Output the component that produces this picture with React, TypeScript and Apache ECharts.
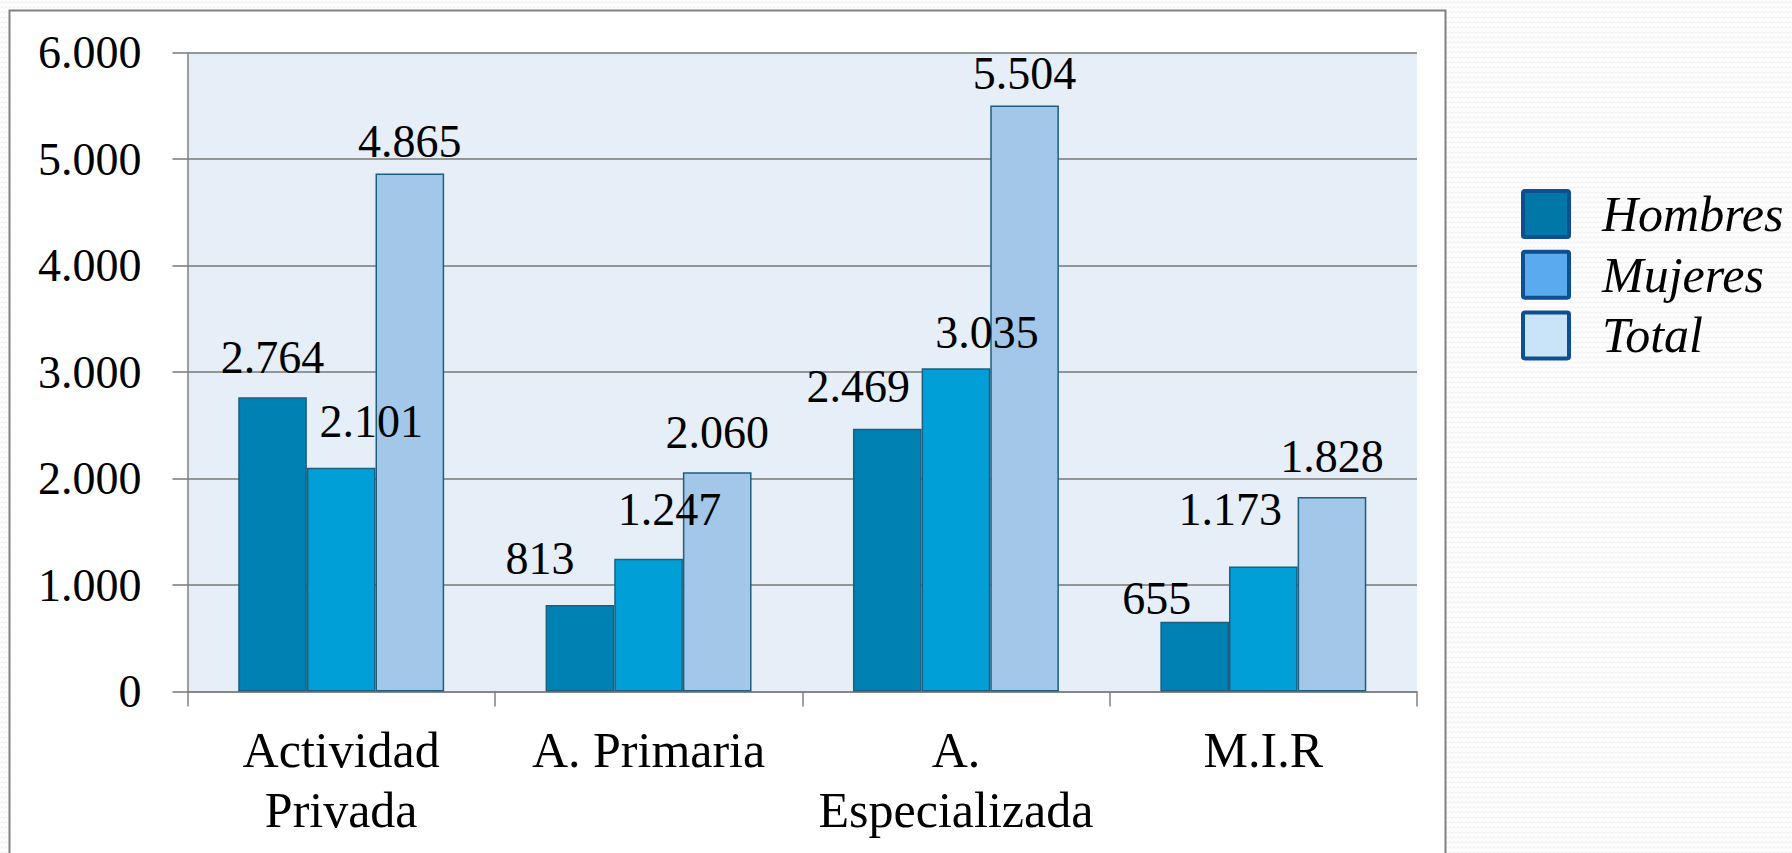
import React, { useEffect, useRef } from "react";
import * as echarts from "echarts";

const categories = ["Actividad\nPrivada", "A. Primaria", "A.\nEspecializada", "M.I.R"];
const seriesNames = ["Hombres", "Mujeres", "Total"];
const hombres = [2764, 813, 2469, 655];
const mujeres = [2101, 1247, 3035, 1173];
const total = [4865, 2060, 5504, 1828];
const yMin = 0;
const yMax = 6000;
const yStep = 1000;

// label nudges (style only), [dx, dy] per category
const hombresNudge = [[0, 0], [-40, -6], [-29, -2], [-38, 17]];
const mujeresNudge = [[30, -6], [21, -9], [31, 4], [-33, -17]];
const totalNudge = [[0, 8], [0, 0], [0, 8], [0, 0]];

const barColors = ["#0081B3", "#009FD8", "#A2C7E8"];
const legendColors = ["#0077A6", "#5AAAF0", "#C9E3F9"];

const fmt = (v: number) => String(v).replace(/\B(?=(\d{3})+(?!\d))/g, ".");

const SERIF = "'Liberation Serif', 'DejaVu Serif', serif";

const legendIcon =
  "path://M2,0H48A2,2 0 0 1 50,2V48A2,2 0 0 1 48,50H2A2,2 0 0 1 0,48V2A2,2 0 0 1 2,0Z";

const patternSvg =
  "data:image/svg+xml;utf8," +
  encodeURIComponent(
    "<svg xmlns='http://www.w3.org/2000/svg' width='8' height='5'><path d='M0 3.5 L2 1.5 L4 3.5 L6 1.5 L8 3.5' stroke='#e4e4e4' stroke-width='0.8' fill='none'/></svg>"
  );

export default function App() {
  const ref = useRef<HTMLDivElement>(null);
  useEffect(() => {
    if (!ref.current) return;
    const chart = echarts.init(ref.current, null, { renderer: "svg" });
    const values = [hombres, mujeres, total];
    const nudges = [hombresNudge, mujeresNudge, totalNudge];
    chart.setOption({
      animation: false,
      backgroundColor: "transparent",
      graphic: [
        {
          type: "rect",
          z: -10,
          shape: { x: 9.5, y: 10.5, width: 1436, height: 900 },
          style: { fill: "#ffffff", stroke: "#808080", lineWidth: 2 },
        },
      ],
      grid: {
        left: 187.5,
        right: 375,
        top: 52.7,
        bottom: 161.5,
        show: true,
        backgroundColor: "#E6EEF8",
        borderWidth: 0,
        containLabel: false,
      },
      legend: {
        orient: "vertical",
        left: 1521,
        top: 189,
        padding: 0,
        itemWidth: 46,
        itemHeight: 46,
        itemGap: 10.7,
        icon: legendIcon,
        textStyle: {
          fontFamily: SERIF,
          fontStyle: "italic",
          fontSize: 50,
          lineHeight: 50,
          color: "#000",
          padding: [0, 0, 0, 28],
        },
        data: seriesNames.map((n, i) => ({
          name: n,
          itemStyle: { color: legendColors[i], borderColor: "#0D4F91", borderWidth: 4 },
        })),
      },
      xAxis: {
        type: "category",
        data: categories,
        axisLine: { show: true, lineStyle: { color: "#808080", width: 1.5 } },
        axisTick: { show: true, length: 15, lineStyle: { color: "#808080", width: 1.5 } },
        axisLabel: {
          fontFamily: SERIF,
          fontSize: 50,
          lineHeight: 60,
          color: "#000",
          margin: 28,
          interval: 0,
        },
      },
      yAxis: {
        type: "value",
        min: yMin,
        max: yMax,
        interval: yStep,
        axisLine: { show: true, lineStyle: { color: "#808080", width: 1.5 } },
        axisTick: { show: true, length: 15, lineStyle: { color: "#777", width: 1.5 } },
        splitLine: { show: true, lineStyle: { color: "#777", width: 1.5 } },
        axisLabel: {
          fontFamily: SERIF,
          fontSize: 46,
          color: "#000",
          margin: 46,
          formatter: (v: number) => fmt(v),
        },
      },
      series: seriesNames.map((name, si) => ({
        name,
        type: "bar",
        barGap: "0%",
        barCategoryGap: "33%",
        itemStyle: { color: barColors[si], borderColor: "#1D5F80", borderWidth: 1.5 },
        label: {
          show: true,
          position: "top",
          distance: 17,
          fontFamily: SERIF,
          fontSize: 46,
          lineHeight: 46,
          color: "#000",
          formatter: (p: any) => fmt(p.value),
        },
        data: values[si].map((v, i) => ({ value: v, label: { offset: nudges[si][i] } })),
      })),
    });
    return () => chart.dispose();
  }, []);
  return (
    <div
      style={{
        position: "fixed",
        left: 0,
        top: 0,
        width: 1792,
        height: 853,
        overflow: "hidden",
        backgroundColor: "#ffffff",
        backgroundImage: `url("${patternSvg}")`,
      }}
    >
      <div ref={ref} style={{ width: 1792, height: 853 }} />
    </div>
  );
}
